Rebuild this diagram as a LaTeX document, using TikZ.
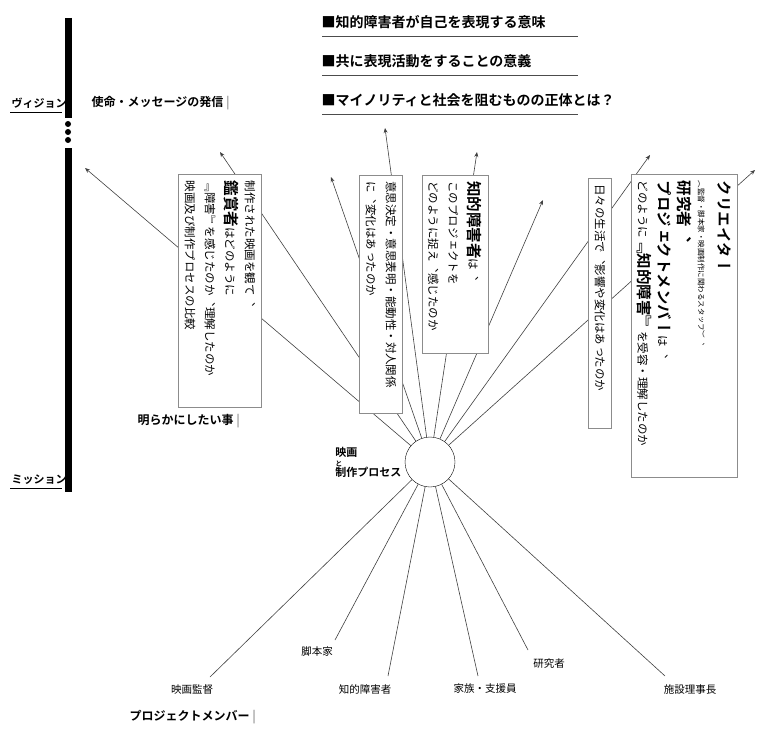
\documentclass[tikz,border=0pt]{standalone}
\usepackage{fontspec}
\setmainfont{Noto Sans CJK JP}[BoldFont={Noto Sans CJK JP Bold}]
\newfontfamily\vjp{Noto Sans CJK JP}[Vertical=RotatedGlyphs,BoldFont={Noto Sans CJK JP Bold}]
\usetikzlibrary{positioning,arrows.meta}

\tikzset{
  ray/.style={draw=black!75, line width=0.6pt},
  uray/.style={ray, -{Stealth[length=5pt,width=4pt]}},
  vbox/.style={draw=black!45, fill=white, rotate=-90, align=left, inner sep=6pt,
    font=\vjp\fontsize{11.5}{20}\selectfont},
  head/.style={font=\bfseries\fontsize{14}{16}\selectfont, anchor=west},
  sec/.style={font=\bfseries\fontsize{12}{14}\selectfont, anchor=west},
  member/.style={font=\fontsize{10.5}{12}\selectfont},
}
\newcommand{\bigw}[1]{{\bfseries\fontsize{15.5}{21}\selectfont #1}}

\begin{document}
\begin{tikzpicture}[x=1pt,y=-1pt]
  \useasboundingbox (0,0) rectangle (768,741);

  % vision / mission bar
  \draw[line width=7pt] (68,18) -- (68,118);
  \foreach \y in {124,132,140} \fill (68,\y) circle (3pt);
  \draw[line width=7pt] (68,148) -- (68,492);
  \node[sec, font=\bfseries\fontsize{11}{12}\selectfont] (vision) at (8,103) {ヴィジョン};
  \draw (vision.south west) ++(2,0) -- ++(52,0);
  \node[sec, font=\bfseries\fontsize{11}{12}\selectfont] (mission) at (8,480) {ミッション};
  \draw (mission.south west) ++(2,0) -- ++(52,0);

  \node[sec] (message) at (88,103) {使命・メッセージの発信 \textcolor{black!40}{|}};
  \node[sec] (aim) at (134,421) {明らかにしたい事 \textcolor{black!40}{|}};
  \node[sec] (members) at (126,717) {プロジェクトメンバー \textcolor{black!40}{|}};

  % headings
  \foreach \t [count=\i] in {知的障害者が自己を表現する意味,共に表現活動をすることの意義,マイノリティと社会を阻むものの正体とは？}{
    \node[head] (h\i) at (318,{22+39*(\i-1)}) {■\t};
    \draw[black!70] (322,{36+39*(\i-1)}) -- (578,{36+39*(\i-1)});
  }

  % hub
  \node[draw, circle, minimum size=50pt, fill=white] (hub) at (430,462) {};
  \node[font=\bfseries\fontsize{11}{12}\selectfont, align=left, anchor=east] (film) at (405,462)
    {映画\\[-2pt]{\fontsize{7}{7}\selectfont と}\\[-2pt]制作プロセス};

  % upward rays
  \foreach \n/\x/\y in {a/85/168, b/220/152, c/331/177, d/385/128, e/477/152, f/543/200, g/650/155, h/755/170}
    \coordinate (t\n) at (\x,\y);
  \foreach \n in {a,b,c,d,e,f,g,h}
    \draw[uray] (hub) -- (t\n);

  % downward rays
  \node[member] (director) at (192,690) {映画監督};
  \node[member] (writer) at (317,652) {脚本家};
  \node[member] (person) at (365,689) {知的障害者};
  \node[member] (family) at (485,689) {家族・支援員};
  \node[member] (research) at (549,664) {研究者};
  \node[member] (chair) at (690,690) {施設理事長};
  \coordinate (ldirector) at (210,677);
  \coordinate (lwriter) at (335,640);
  \coordinate (lperson) at (388,676);
  \coordinate (lfamily) at (478,676);
  \coordinate (lresearch) at (528,650);
  \coordinate (lchair) at (665,676);
  \foreach \n in {director,writer,person,family,research,chair}
    \draw[ray] (hub) -- (l\n);

  % question boxes
  \node[vbox, text width=221pt] (viewer) at (220,291)
    {制作された映画を観て、\\\bigw{鑑賞者}はどのように\\『障害』を感じたのか、理解したのか\\映画及び制作プロセスの比較};
  \node[vbox, text width=226pt] (change) at (381,294)
    {意思決定・意思表明・能動性・対人関係\\に、変化はあったのか};
  \node[vbox, text width=166pt] (persons) at (455,264)
    {\bigw{知的障害者}は、\\このプロジェクトを\\どのように捉え、感じたのか};
  \node[vbox, text width=238pt] (daily) at (600,303)
    {日々の生活で、影響や変化はあったのか};
  \node[vbox, text width=291pt] (creator) at (684,326)
    {\bigw{クリエイター}\\{\fontsize{7.5}{14}\selectfont（監督・脚本家・映画制作に関わるスタッフ）、}\\\bigw{研究者、}\\\bigw{プロジェクトメンバー}は、\\どのように\bigw{『知的障害』}を受容・理解したのか};
\end{tikzpicture}
\end{document}
